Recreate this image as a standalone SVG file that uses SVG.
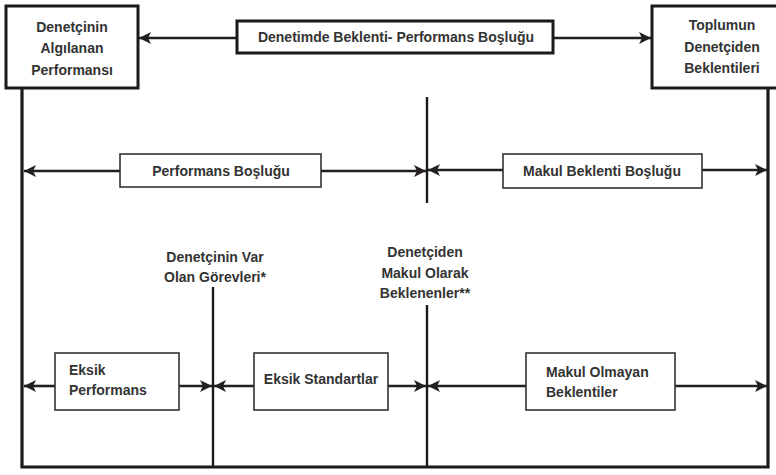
<svg xmlns="http://www.w3.org/2000/svg" width="776" height="475" viewBox="0 0 776 475">
<defs>
<marker id="ah" markerUnits="userSpaceOnUse" markerWidth="12" markerHeight="12" viewBox="0 0 12 12" refX="12" refY="6" orient="auto-start-reverse">
<path d="M0,0 L12,6 L0,12 L3,6 Z" fill="#231f20"/>
</marker>
</defs>
<style>
.big{fill:#fff;stroke:#1a1a1a;stroke-width:3}
.box{fill:#fff;stroke:#333;stroke-width:1.6}
.frame{stroke:#1a1a1a;stroke-width:3.2;fill:none}
.div{stroke:#1a1a1a;stroke-width:2.4;fill:none}
.con{stroke:#231f20;stroke-width:2.6;fill:none}
.t{font-family:"Liberation Sans",Arial,sans-serif;font-size:14px;font-weight:bold;fill:#333}
.c{text-anchor:middle}
</style>
<rect width="776" height="475" fill="#fff"/>
<g id="frame">
<path class="frame" d="M22,88 V467 H768 V88"/>
<path class="div" d="M213,287 V467"/>
<path class="div" d="M427,97 V203"/>
<path class="div" d="M427,305 V467"/>
</g>
<g id="connectors">
<path class="con" d="M237,38 H139" marker-end="url(#ah)"/>
<path class="con" d="M553,38 H651" marker-end="url(#ah)"/>
<path class="con" d="M120,171 H24" marker-end="url(#ah)"/>
<path class="con" d="M321,171 H426" marker-end="url(#ah)"/>
<path class="con" d="M503,170 H428" marker-end="url(#ah)"/>
<path class="con" d="M702,170 H767" marker-end="url(#ah)"/>
<path class="con" d="M55,386 H24" marker-end="url(#ah)"/>
<path class="con" d="M179,386 H212" marker-end="url(#ah)"/>
<path class="con" d="M254,386 H214" marker-end="url(#ah)"/>
<path class="con" d="M388,386 H426" marker-end="url(#ah)"/>
<path class="con" d="M526,386 H428" marker-end="url(#ah)"/>
<path class="con" d="M675,386 H767" marker-end="url(#ah)"/>
</g>
<g id="n-algilanan">
<rect class="big" x="6" y="6" width="132" height="82"/>
<text class="t c" x="72" y="32">Denetçinin</text>
<text class="t c" x="72" y="53">Algılanan</text>
<text class="t c" x="72" y="75">Performansı</text>
</g>
<g id="n-gap">
<rect class="big" x="237" y="21" width="316" height="32"/>
<text class="t c" x="396" y="42">Denetimde Beklenti- Performans Boşluğu</text>
</g>
<g id="n-toplum">
<rect class="big" x="652" y="6" width="130" height="82"/>
<text class="t c" x="722" y="30">Toplumun</text>
<text class="t c" x="722" y="52">Denetçiden</text>
<text class="t c" x="722" y="73">Beklentileri</text>
</g>
<g id="n-perf-gap">
<rect class="box" x="120" y="154" width="201" height="33"/>
<text class="t c" x="221" y="176">Performans Boşluğu</text>
</g>
<g id="n-makul-gap">
<rect class="box" x="503" y="154" width="199" height="34"/>
<text class="t c" x="602" y="176">Makul Beklenti Boşluğu</text>
</g>
<g id="n-gorevler">
<text class="t c" x="215" y="262">Denetçinin Var</text>
<text class="t c" x="215" y="282">Olan Görevleri*</text>
</g>
<g id="n-beklenenler">
<text class="t c" x="425" y="257">Denetçiden</text>
<text class="t c" x="425" y="278">Makul Olarak</text>
<text class="t c" x="425" y="298">Beklenenler**</text>
</g>
<g id="n-eksik-perf">
<rect class="box" x="55" y="353" width="124" height="57"/>
<text class="t" x="69" y="375">Eksik</text>
<text class="t" x="69" y="395">Performans</text>
</g>
<g id="n-eksik-std">
<rect class="box" x="254" y="353" width="134" height="57"/>
<text class="t c" x="321" y="384">Eksik Standartlar</text>
</g>
<g id="n-makul-olmayan">
<rect class="box" x="526" y="353" width="149" height="57"/>
<text class="t" x="546" y="377">Makul Olmayan</text>
<text class="t" x="546" y="397">Beklentiler</text>
</g>
</svg>
